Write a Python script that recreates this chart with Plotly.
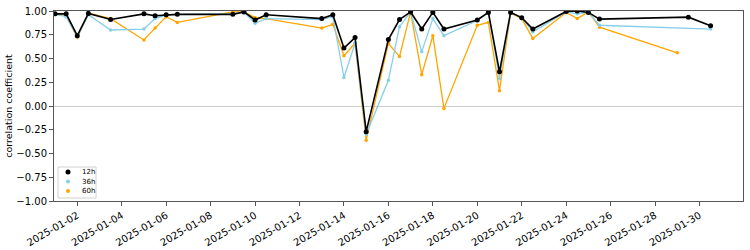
import plotly.graph_objects as go

dates = [
    "2025-01-01 00:00", "2025-01-01 12:00", "2025-01-02 00:00", "2025-01-02 12:00",
    "2025-01-03 12:00", "2025-01-05 00:00", "2025-01-05 12:00", "2025-01-06 00:00",
    "2025-01-06 12:00", "2025-01-09 00:00", "2025-01-09 12:00", "2025-01-10 00:00",
    "2025-01-10 12:00", "2025-01-13 00:00", "2025-01-13 12:00", "2025-01-14 00:00",
    "2025-01-14 12:00", "2025-01-15 00:00", "2025-01-16 00:00", "2025-01-16 12:00",
    "2025-01-17 00:00", "2025-01-17 12:00", "2025-01-18 00:00", "2025-01-18 12:00",
    "2025-01-20 00:00", "2025-01-20 12:00", "2025-01-21 00:00", "2025-01-21 12:00",
    "2025-01-22 00:00", "2025-01-22 12:00", "2025-01-24 00:00", "2025-01-24 12:00",
    "2025-01-25 00:00", "2025-01-25 12:00", "2025-01-29 00:00", "2025-01-29 12:00",
    "2025-01-30 12:00",
]

corr_12h = [
    0.97, 0.97, 0.74, 0.975, 0.91, 0.97, 0.95, 0.96,
    0.965, 0.965, 0.99, 0.905, 0.96, 0.92, 0.96, 0.61,
    0.72, -0.27, 0.70, 0.91, 0.99, 0.81, 0.985, 0.81,
    0.905, 0.985, 0.36, 0.985, 0.93, 0.81, 0.995, 1.0,
    0.985, 0.915, None, 0.935, 0.845,
]

corr_36h = [
    0.965, 0.94, 0.73, 0.96, 0.80, 0.81, 0.92, 0.96,
    0.965, 0.97, 0.99, 0.87, 0.92, 0.91, 0.94, 0.30,
    0.66, -0.30, 0.27, 0.835, 0.99, 0.57, 0.92, 0.74,
    0.90, 0.985, 0.29, 0.985, 0.93, 0.78, 0.99, 0.97,
    0.985, 0.85, None, None, 0.81,
]

corr_60h = [
    0.97, 0.95, 0.72, 0.98, 0.92, 0.695, 0.82, 0.94,
    0.88, 0.99, 0.99, 0.93, 0.92, 0.82, 0.86, 0.53,
    0.66, -0.36, 0.66, 0.52, 0.99, 0.33, 0.74, -0.025,
    0.85, 0.88, 0.16, 0.98, 0.92, 0.71, 0.985, 0.92,
    0.99, 0.83, 0.56, None, None,
]

series_names = ["12h", "36h", "60h"]
series_values = [corr_12h, corr_36h, corr_60h]
series_colors = ["black", "skyblue", "orange"]
series_widths = [1.6, 1.3, 1.3]
series_msizes = [5, 3.5, 3.5]
legend_msizes = [5, 4, 4]

fig = go.Figure()
for i in reversed(range(3)):
    fig.add_trace(go.Scatter(
        x=dates, y=series_values[i], mode="lines+markers", name=series_names[i],
        line=dict(color=series_colors[i], width=series_widths[i]),
        marker=dict(color=series_colors[i], size=series_msizes[i]),
        connectgaps=True, showlegend=False,
    ))

# compact matplotlib-like legend box (lower left)
W, H = 689.0, 190.0  # plot area size in px
def px_x(p):
    return (p - 54) / W
def px_y(p):
    return (201 - p) / H

shapes = [dict(
    type="rect", xref="paper", yref="paper",
    x0=px_x(58), x1=px_x(96), y0=px_y(198), y1=px_y(167),
    fillcolor="white", line=dict(color="#d0d0d0", width=1), layer="above",
)]
annotations = []
item_y = [172, 181.5, 191]
for i in range(3):
    r = legend_msizes[i] / 2.0
    shapes.append(dict(
        type="circle", xref="paper", yref="paper",
        xsizemode="pixel", ysizemode="pixel",
        xanchor=px_x(68), yanchor=px_y(item_y[i]),
        x0=-r, x1=r, y0=-r, y1=r,
        fillcolor=series_colors[i], line=dict(width=0), layer="above",
    ))
    annotations.append(dict(
        xref="paper", yref="paper", x=px_x(80), y=px_y(item_y[i]),
        xanchor="left", yanchor="middle", text=series_names[i],
        showarrow=False, font=dict(size=7, color="black"),
    ))

fig.update_layout(
    width=750, height=250,
    margin=dict(l=54, r=7, t=11, b=49, autoexpand=False),
    paper_bgcolor="white", plot_bgcolor="white",
    font=dict(family="DejaVu Sans", size=10, color="black"),
    showlegend=False,
    shapes=shapes, annotations=annotations,
)
fig.update_xaxes(
    type="date", automargin=False,
    range=["2024-12-31 22:50", "2025-01-31 23:00"],
    tick0="2025-01-02", dtick=2 * 86400000,
    tickformat="%Y-%m-%d", tickangle=-30,
    showgrid=False, zeroline=False,
    showline=True, linecolor="#555555", linewidth=1, mirror=True,
    ticks="outside", ticklen=4, tickcolor="#555555",
    tickfont=dict(size=10),
)
fig.update_yaxes(
    automargin=False,
    range=[-1, 1], tickvals=[1, 0.75, 0.5, 0.25, 0, -0.25, -0.5, -0.75, -1],
    ticktext=["1.00", "0.75", "0.50", "0.25", "0.00", "\u22120.25", "\u22120.50", "\u22120.75", "\u22121.00"],
    showgrid=False, zeroline=True, zerolinecolor="#cccccc", zerolinewidth=1,
    showline=True, linecolor="#555555", linewidth=1, mirror=True,
    ticks="outside", ticklen=4, tickcolor="#555555",
    title=dict(text="correlation coefficient", font=dict(size=9.5), standoff=2),
    tickfont=dict(size=10),
)

fig.write_html("out.html")
